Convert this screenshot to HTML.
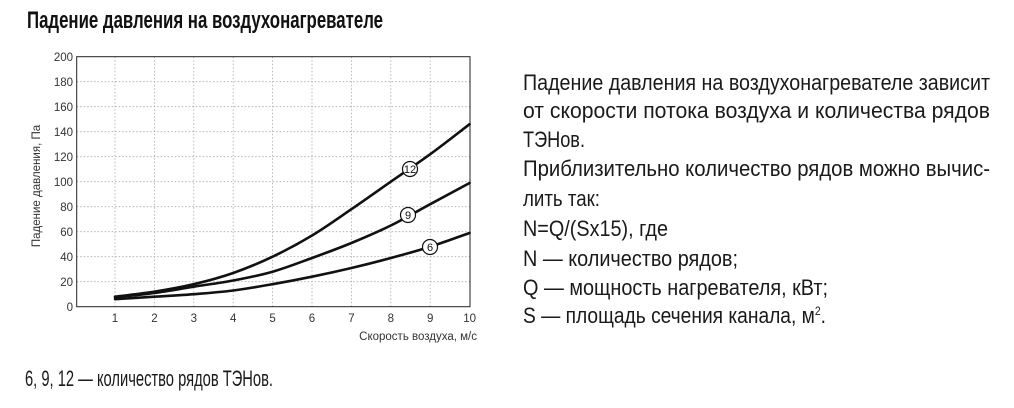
<!DOCTYPE html>
<html><head><meta charset="utf-8"><style>
html,body{margin:0;padding:0;background:#fff;}
svg{display:block;}
</style></head><body>
<svg width="1014" height="408" viewBox="0 0 1014 408" xmlns="http://www.w3.org/2000/svg" font-family="'Liberation Sans', sans-serif">
<text x="27" y="28" font-size="24" font-weight="bold" fill="#111" textLength="356" lengthAdjust="spacingAndGlyphs">Падение давления на воздухонагревателе</text>
<g stroke="#aaa" stroke-width="0.8" stroke-dasharray="1.5,2">
<line x1="76.7" y1="81.7" x2="470" y2="81.7"/><line x1="76.7" y1="106.7" x2="470" y2="106.7"/>
<line x1="76.7" y1="131.7" x2="470" y2="131.7"/><line x1="76.7" y1="156.7" x2="470" y2="156.7"/>
<line x1="76.7" y1="181.7" x2="470" y2="181.7"/><line x1="76.7" y1="206.7" x2="470" y2="206.7"/>
<line x1="76.7" y1="231.7" x2="470" y2="231.7"/><line x1="76.7" y1="256.7" x2="470" y2="256.7"/>
<line x1="76.7" y1="281.7" x2="470" y2="281.7"/>
<line x1="115" y1="56.7" x2="115" y2="306.7"/><line x1="154.4" y1="56.7" x2="154.4" y2="306.7"/>
<line x1="193.8" y1="56.7" x2="193.8" y2="306.7"/><line x1="233.2" y1="56.7" x2="233.2" y2="306.7"/>
<line x1="272.6" y1="56.7" x2="272.6" y2="306.7"/><line x1="312" y1="56.7" x2="312" y2="306.7"/>
<line x1="351.4" y1="56.7" x2="351.4" y2="306.7"/><line x1="390.8" y1="56.7" x2="390.8" y2="306.7"/>
<line x1="430.2" y1="56.7" x2="430.2" y2="306.7"/>
</g>
<rect x="76.7" y="56.7" width="393.3" height="250" fill="none" stroke="#222" stroke-width="1"/>
<g font-size="11.5" fill="#333" text-anchor="end">
<text x="73" y="311">0</text><text x="73" y="286">20</text><text x="73" y="261">40</text><text x="73" y="236">60</text><text x="73" y="211">80</text><text x="73" y="186">100</text><text x="73" y="161">120</text><text x="73" y="136">140</text><text x="73" y="111">160</text><text x="73" y="86">180</text><text x="73" y="61">200</text>
</g>
<g font-size="11.5" fill="#333" text-anchor="middle">
<text x="115" y="322">1</text><text x="154.4" y="322">2</text><text x="193.8" y="322">3</text><text x="233.2" y="322">4</text><text x="272.6" y="322">5</text><text x="312" y="322">6</text><text x="351.4" y="322">7</text><text x="390.8" y="322">8</text><text x="430.2" y="322">9</text><text x="469.6" y="322">10</text>
</g>
<text x="477" y="340" font-size="11.5" fill="#333" text-anchor="end">Скорость воздуха, м/с</text>
<text transform="translate(40,186) rotate(-90)" font-size="11.5" fill="#333" text-anchor="middle">Падение давления, Па</text>
<g fill="none" stroke="#111" stroke-width="2.6" stroke-linecap="round">
<path id="c12"/>
<path id="c9"/>
<path id="c6"/>
</g>
<g fill="#fff" stroke="#111" stroke-width="1.2">
<circle cx="410" cy="169" r="7.5"/><circle cx="408" cy="215" r="7.5"/><circle cx="430" cy="247" r="7.5"/>
</g>
<g font-size="11" fill="#111" text-anchor="middle">
<text x="410" y="173">12</text><text x="408" y="219">9</text><text x="430" y="251">6</text>
</g>
<g font-size="22" fill="#1a1a1a">
<text x="523" y="90" textLength="467" lengthAdjust="spacingAndGlyphs">Падение давления на воздухонагревателе зависит</text>
<text x="523" y="118" textLength="467" lengthAdjust="spacingAndGlyphs">от скорости потока воздуха и количества рядов</text>
<text x="523" y="147" textLength="62" lengthAdjust="spacingAndGlyphs">ТЭНов.</text>
<text x="523" y="176" textLength="467" lengthAdjust="spacingAndGlyphs">Приблизительно количество рядов можно вычис-</text>
<text x="523" y="206" textLength="77" lengthAdjust="spacingAndGlyphs">лить так:</text>
<text x="523" y="236" textLength="145" lengthAdjust="spacingAndGlyphs">N=Q/(Sx15), где</text>
<text x="523" y="266" textLength="215" lengthAdjust="spacingAndGlyphs">N — количество рядов;</text>
<text x="523" y="295" textLength="305" lengthAdjust="spacingAndGlyphs">Q — мощность нагревателя, кВт;</text>
<text x="523" y="323" textLength="303" lengthAdjust="spacingAndGlyphs">S — площадь сечения канала, м<tspan font-size="12" dy="-8">2</tspan><tspan dy="8">.</tspan></text>
<text x="25" y="386" textLength="248" lengthAdjust="spacingAndGlyphs">6, 9, 12 — количество рядов ТЭНов.</text>
</g>
</svg>
<script>
function mk(id, ys){
  var xs=[];for(var i=0;i<10;i++)xs.push(115+39.4*i);
  var n=ys.length,t=[];
  for(var i=0;i<n;i++){
    if(i==0)t.push((ys[1]-ys[0])/3);
    else if(i==n-1)t.push((ys[n-1]-ys[n-2])/3);
    else t.push((ys[i+1]-ys[i-1])/6);
  }
  var d="M"+xs[0]+","+ys[0];
  for(var i=0;i<n-1;i++){
    d+=" C"+(xs[i]+13.13)+","+(ys[i]+t[i])+" "+(xs[i+1]-13.13)+","+(ys[i+1]-t[i+1])+" "+xs[i+1]+","+ys[i+1];
  }
  document.getElementById(id).setAttribute("d",d);
}
mk("c12",[296.7,291.7,284.2,273,256.7,235.5,209.2,181.7,154.2,124.2]);
mk("c9",[297.3,293,286.7,280.5,271.7,258,243,225.5,204.2,183]);
mk("c6",[299.2,296.7,294.2,290.5,284.2,276.7,268,258,246.7,233]);
</script>
</body></html>
